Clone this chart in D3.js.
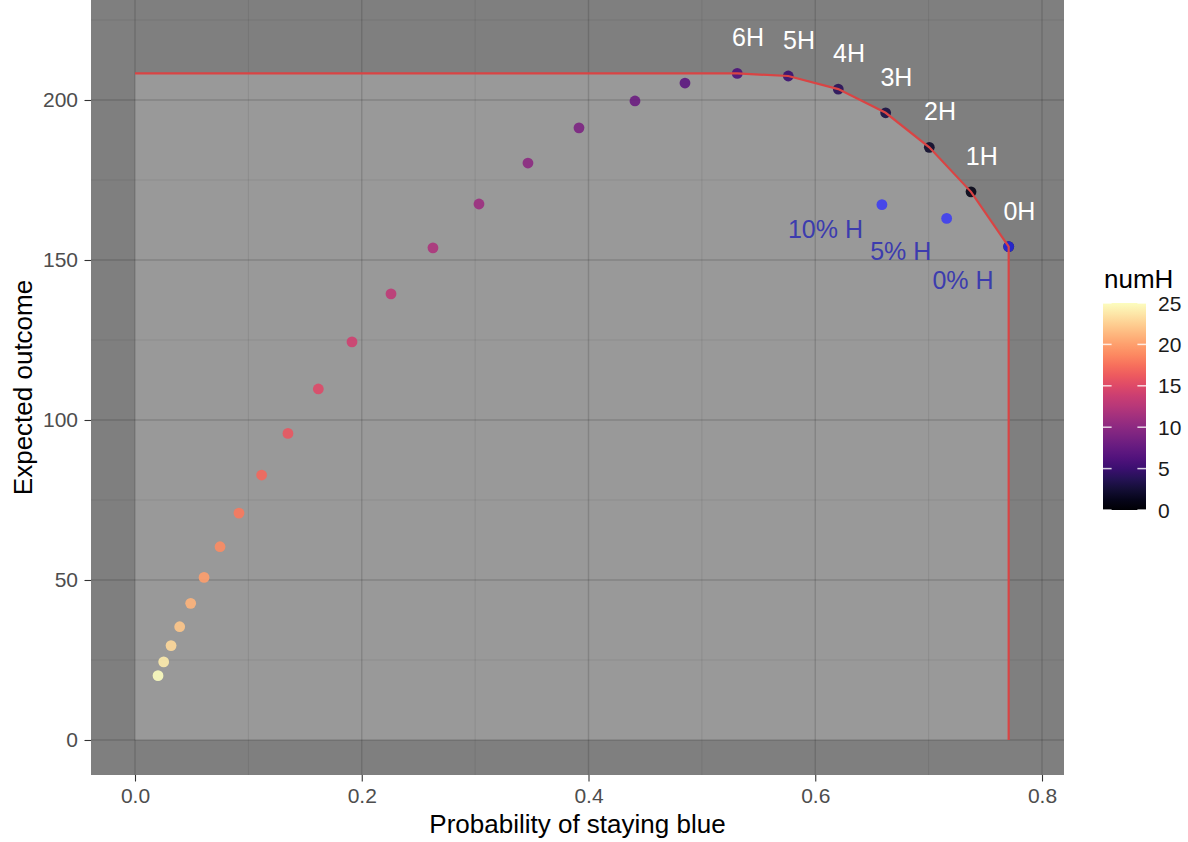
<!DOCTYPE html>
<html>
<head>
<meta charset="utf-8">
<script src="https://cdn.jsdelivr.net/npm/d3@7"></script>
<style>
  body { margin: 0; background: #fff; }
  svg { display: block; font-family: "Liberation Sans", Arial, sans-serif; }
</style>
</head>
<body>
<div id="chart"></div>
<script>
// Frontier chart: expected outcome vs probability of staying blue, coloured by numH

// numH points (0..25)
const numH = [0, 1, 2, 3, 4, 5, 6, 7, 8, 9, 10, 11, 12, 13, 14, 15, 16, 17, 18, 19, 20, 21, 22, 23, 24, 25];
const probBlue = [0.7706, 0.7374, 0.7006, 0.6621, 0.6203, 0.5762, 0.5312, 0.4851, 0.4410, 0.3916,
                  0.3466, 0.3034, 0.2628, 0.2258, 0.1914, 0.1617, 0.1349, 0.1117, 0.0917, 0.0750,
                  0.0609, 0.0491, 0.0394, 0.0318, 0.0253, 0.0203];
const outcome = [154.2, 171.3, 185.2, 196.0, 203.4, 207.5, 208.3, 205.3, 199.7, 191.3,
                 180.3, 167.5, 153.8, 139.4, 124.4, 109.7, 95.8, 82.8, 70.9, 60.4,
                 50.8, 42.7, 35.4, 29.5, 24.4, 20.1];

// labelled frontier points
const frontierLabels = ['0H', '1H', '2H', '3H', '4H', '5H', '6H'];

// percentage-H points and their label anchors
const pctLabels = ['10% H', '5% H', '0% H'];
const pctProb = [0.6588, 0.7159, 0.7706];
const pctOutcome = [167.3, 163.0, 154.2];
const pctLabelProb = [0.609, 0.6754, 0.7303];
const pctLabelOutcome = [159.8, 152.8, 143.75];

// axis ticks
const xMajor = [0, 0.2, 0.4, 0.6, 0.8];
const xMinor = [0.1, 0.3, 0.5, 0.7];
const yMajor = [0, 50, 100, 150, 200];
const yMinor = [25, 75, 125, 175, 225];
const legendTicks = [0, 5, 10, 15, 20, 25];

function initChart() {
    const W = 1188, H = 842;
    const panel = { left: 91, right: 1064, top: 0, bottom: 775 };

    const svg = d3.select('#chart').append('svg')
        .attr('width', W)
        .attr('height', H);

    svg.append('rect').attr('width', W).attr('height', H).attr('fill', '#fff');

    // Scales
    const xScale = d3.scaleLinear()
        .domain([-0.03881, 0.8194])
        .range([panel.left, panel.right]);
    const yScale = d3.scaleLinear()
        .domain([-10.94, 231.25])
        .range([panel.bottom, panel.top]);
    const color = d3.scaleSequential(d3.interpolateMagma).domain([0, 25]);

    const points = numH.map((n, i) => ({ n: n, x: probBlue[i], y: outcome[i] }));

    // Frontier: horizontal from x=0 to 6H, down the labelled points, then vertical to 0
    const front = points.slice(0, frontierLabels.length).reverse();
    const frontierPath = [{ x: 0, y: front[0].y }].concat(front)
        .concat([{ x: front[front.length - 1].x, y: 0 }]);

    // Panel background
    svg.append('rect')
        .attr('x', panel.left)
        .attr('y', panel.top)
        .attr('width', panel.right - panel.left)
        .attr('height', panel.bottom - panel.top)
        .attr('fill', '#7f7f7f');

    // Feasible region under the frontier
    const area = d3.line().x(d => xScale(d.x)).y(d => yScale(d.y));
    svg.append('path')
        .attr('d', area(frontierPath.concat([{ x: 0, y: 0 }])) + 'Z')
        .attr('fill', '#999999');

    // Grid lines
    const grid = svg.append('g');
    function vlines(vals, op, w) {
        grid.selectAll(null).data(vals).enter().append('line')
            .attr('x1', d => xScale(d)).attr('x2', d => xScale(d))
            .attr('y1', panel.top).attr('y2', panel.bottom)
            .attr('stroke', '#000').attr('stroke-opacity', op).attr('stroke-width', w);
    }
    function hlines(vals, op, w) {
        grid.selectAll(null).data(vals).enter().append('line')
            .attr('y1', d => yScale(d)).attr('y2', d => yScale(d))
            .attr('x1', panel.left).attr('x2', panel.right)
            .attr('stroke', '#000').attr('stroke-opacity', op).attr('stroke-width', w);
    }
    vlines(xMinor, 0.08, 1);
    hlines(yMinor, 0.08, 1);
    vlines(xMajor, 0.14, 1.4);
    hlines(yMajor, 0.14, 1.4);

    // numH points
    svg.append('g').selectAll('circle')
        .data(points)
        .enter().append('circle')
        .attr('cx', d => xScale(d.x))
        .attr('cy', d => yScale(d.y))
        .attr('r', 5.4)
        .attr('fill', d => color(d.n))
        .attr('fill-opacity', 0.9);

    // percentage-H points
    svg.append('g').selectAll('circle')
        .data(pctLabels)
        .enter().append('circle')
        .attr('cx', (d, i) => xScale(pctProb[i]))
        .attr('cy', (d, i) => yScale(pctOutcome[i]))
        .attr('r', 5.4)
        .attr('fill', '#3030ff')
        .attr('fill-opacity', 0.78);

    // Frontier line
    svg.append('path')
        .attr('d', area(frontierPath))
        .attr('fill', 'none')
        .attr('stroke', '#d94444')
        .attr('stroke-width', 2.2);

    // Frontier labels (white)
    svg.append('g').selectAll('text')
        .data(frontierLabels)
        .enter().append('text')
        .attr('x', (d, i) => xScale(points[i].x + 0.0095))
        .attr('y', (d, i) => yScale(points[i].y + 11.25) + 9)
        .attr('text-anchor', 'middle')
        .style('font-size', '25px')
        .attr('fill', '#fff')
        .text(d => d);

    // Percentage labels (blue)
    svg.append('g').selectAll('text')
        .data(pctLabels)
        .enter().append('text')
        .attr('x', (d, i) => xScale(pctLabelProb[i]))
        .attr('y', (d, i) => yScale(pctLabelOutcome[i]) + 9)
        .attr('text-anchor', 'middle')
        .style('font-size', '25px')
        .attr('fill', '#3c3cae')
        .text(d => d);

    // Axes
    const xAxis = d3.axisBottom(xScale).tickValues(xMajor)
        .tickFormat(d3.format('.1f')).tickSize(6.5).tickPadding(6.6);
    const yAxis = d3.axisLeft(yScale).tickValues(yMajor)
        .tickFormat(d3.format('d')).tickSize(6.5).tickPadding(6.5);

    const xg = svg.append('g').attr('transform', `translate(0,${panel.bottom})`).call(xAxis);
    const yg = svg.append('g').attr('transform', `translate(${panel.left},0)`).call(yAxis);
    [xg, yg].forEach(g => {
        g.select('.domain').remove();
        g.selectAll('line').attr('stroke', '#333').attr('stroke-width', 1.1);
        g.selectAll('text')
            .style('font-size', '21px')
            .style('font-family', '"Liberation Sans", Arial, sans-serif')
            .attr('fill', '#4d4d4d');
    });

    // Axis titles
    svg.append('text')
        .attr('x', (panel.left + panel.right) / 2)
        .attr('y', 833)
        .attr('text-anchor', 'middle')
        .style('font-size', '26px')
        .attr('fill', '#000')
        .text('Probability of staying blue');

    svg.append('text')
        .attr('transform', `translate(31.5,${(panel.top + panel.bottom) / 2}) rotate(-90)`)
        .attr('text-anchor', 'middle')
        .style('font-size', '26px')
        .attr('fill', '#000')
        .text('Expected outcome');

    // Colour bar legend
    const bar = { x: 1103, w: 43, top: 303, bottom: 510 };
    const legendScale = d3.scaleLinear().domain([0, 25]).range([bar.bottom, bar.top]);

    const grad = svg.append('defs').append('linearGradient')
        .attr('id', 'magma-bar')
        .attr('x1', 0).attr('y1', 1).attr('x2', 0).attr('y2', 0);
    grad.selectAll('stop')
        .data(d3.range(0, 1.0001, 0.05))
        .enter().append('stop')
        .attr('offset', d => d)
        .attr('stop-color', d => d3.interpolateMagma(d));

    svg.append('text')
        .attr('x', 1104)
        .attr('y', 288)
        .style('font-size', '26px')
        .attr('fill', '#000')
        .text('numH');

    svg.append('rect')
        .attr('x', bar.x)
        .attr('y', bar.top)
        .attr('width', bar.w)
        .attr('height', bar.bottom - bar.top)
        .attr('fill', 'url(#magma-bar)');

    const lt = svg.append('g');
    legendTicks.forEach(v => {
        const y = legendScale(v);
        lt.append('line')
            .attr('x1', bar.x).attr('x2', bar.x + 8.6)
            .attr('y1', y).attr('y2', y)
            .attr('stroke', '#fff').attr('stroke-opacity', 0.8).attr('stroke-width', 1.5);
        lt.append('line')
            .attr('x1', bar.x + bar.w - 8.6).attr('x2', bar.x + bar.w)
            .attr('y1', y).attr('y2', y)
            .attr('stroke', '#fff').attr('stroke-opacity', 0.8).attr('stroke-width', 1.5);
        lt.append('text')
            .attr('x', 1158)
            .attr('y', y + 7.5)
            .style('font-size', '21px')
            .attr('fill', '#1a1a1a')
            .text(v);
    });
}

initChart();
</script>
</body>
</html>
